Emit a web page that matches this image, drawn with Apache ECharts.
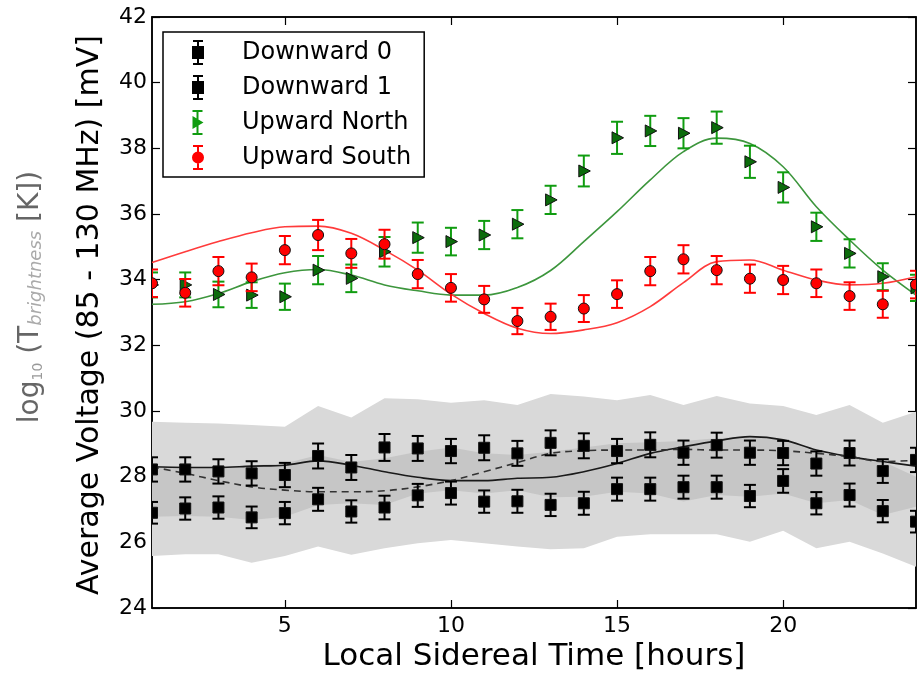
<!DOCTYPE html>
<html>
<head>
    <meta charset="UTF-8">
    <title>Average Voltage vs LST</title>
    <script src="https://cdn.jsdelivr.net/npm/echarts@6/dist/echarts.min.js"></script>
    <style type="text/css">
        html, body { margin:0; padding:0; background:#fff; }
        #main { width:924px; height:679px; }
    </style>
</head>
<body>
<div id="main"></div>
<script type="text/javascript">
    // local sidereal time, hours
    var hours = [1, 2, 3, 4, 5, 6, 7, 8, 9, 10, 11, 12, 13, 14, 15, 16, 17, 18, 19, 20, 21, 22, 23, 24];
    var xTicks = [5, 10, 15, 20];

    // measured points and error half-widths
    var down0 = [28.22, 28.22, 28.16, 28.10, 28.05, 28.63, 28.28, 28.89, 28.86, 28.78, 28.88, 28.71, 29.03, 28.94, 28.78, 28.97, 28.73, 28.96, 28.73, 28.72, 28.40, 28.72, 28.17, 28.51];
    var down0Err = [0.37, 0.37, 0.37, 0.37, 0.37, 0.38, 0.38, 0.41, 0.38, 0.37, 0.38, 0.38, 0.38, 0.38, 0.37, 0.38, 0.37, 0.38, 0.37, 0.37, 0.37, 0.38, 0.36, 0.37];
    var down1 = [26.90, 27.03, 27.06, 26.76, 26.89, 27.31, 26.94, 27.06, 27.43, 27.50, 27.24, 27.25, 27.14, 27.19, 27.62, 27.62, 27.68, 27.68, 27.41, 27.87, 27.19, 27.44, 26.95, 26.63];
    var down1Err = [0.33, 0.34, 0.34, 0.33, 0.34, 0.35, 0.34, 0.36, 0.35, 0.35, 0.34, 0.35, 0.34, 0.35, 0.35, 0.35, 0.35, 0.35, 0.34, 0.36, 0.34, 0.35, 0.34, 0.33];
    var upNorth = [33.84, 33.84, 33.55, 33.53, 33.48, 34.29, 34.04, 34.85, 35.28, 35.16, 35.36, 35.69, 36.43, 37.31, 38.32, 38.53, 38.46, 38.63, 37.59, 36.81, 35.61, 34.80, 34.09, 33.75];
    var upNorthErr = [0.38, 0.38, 0.39, 0.39, 0.40, 0.43, 0.42, 0.45, 0.46, 0.42, 0.43, 0.43, 0.43, 0.47, 0.49, 0.46, 0.46, 0.49, 0.49, 0.46, 0.43, 0.43, 0.41, 0.40];
    var upSouth = [33.89, 33.60, 34.26, 34.07, 34.90, 35.36, 34.80, 35.08, 34.17, 33.75, 33.40, 32.74, 32.87, 33.12, 33.56, 34.26, 34.62, 34.29, 34.03, 33.99, 33.89, 33.50, 33.25, 33.85];
    var upSouthErr = [0.42, 0.42, 0.43, 0.42, 0.43, 0.46, 0.44, 0.44, 0.43, 0.42, 0.41, 0.40, 0.40, 0.41, 0.42, 0.43, 0.43, 0.43, 0.43, 0.43, 0.42, 0.42, 0.41, 0.42];

    // model curves
    var fitNorth = [33.25, 33.33, 33.58, 33.94, 34.21, 34.31, 34.14, 33.84, 33.66, 33.53, 33.53, 33.76, 34.28, 35.16, 36.07, 37.04, 37.90, 38.31, 38.15, 37.44, 36.22, 35.21, 34.29, 33.53];
    var fitSouth = [34.52, 34.85, 35.16, 35.43, 35.61, 35.63, 35.41, 34.90, 34.29, 33.56, 32.97, 32.52, 32.36, 32.47, 32.69, 33.18, 33.91, 34.55, 34.60, 34.29, 33.99, 33.84, 33.89, 34.09];
    var fitDownSolid = [28.30, 28.28, 28.28, 28.32, 28.35, 28.48, 28.35, 28.15, 27.98, 27.88, 27.88, 27.95, 27.98, 28.15, 28.40, 28.71, 28.91, 29.09, 29.22, 29.12, 28.81, 28.61, 28.46, 28.32];
    var fitDownDash = [28.30, 28.10, 27.88, 27.69, 27.59, 27.54, 27.54, 27.57, 27.69, 27.88, 28.15, 28.43, 28.71, 28.79, 28.81, 28.81, 28.83, 28.81, 28.81, 28.79, 28.71, 28.61, 28.46, 28.50];

    // grey bands
    var outerHi = [29.67, 29.64, 29.62, 29.57, 29.52, 30.15, 29.80, 30.39, 30.36, 30.25, 30.33, 30.18, 30.52, 30.44, 30.33, 30.49, 30.18, 30.46, 30.23, 30.15, 29.88, 30.18, 29.64, 29.98];
    var outerLo = [25.58, 25.64, 25.64, 25.38, 25.58, 25.87, 25.62, 25.82, 25.97, 26.07, 25.97, 25.87, 25.79, 25.82, 26.17, 26.25, 26.25, 26.25, 26.02, 26.35, 25.82, 26.02, 25.66, 25.26];
    var innerHi = [28.32, 28.30, 28.30, 28.35, 28.40, 28.66, 28.45, 28.56, 28.76, 28.89, 28.71, 28.66, 28.76, 28.89, 29.02, 29.05, 29.09, 29.17, 29.22, 29.12, 28.76, 28.56, 28.46, 28.00];
    var innerLo = [26.78, 26.80, 26.78, 26.68, 26.78, 27.14, 27.19, 27.14, 27.49, 27.59, 27.49, 27.59, 27.37, 27.39, 27.54, 27.49, 27.24, 27.44, 27.39, 27.49, 27.19, 27.29, 26.83, 27.08];

    var FONT = 'DejaVu Sans';
    var BAR = 'M1,0h10v2h-10z M5,0h2v25h-2z M1,23h10v2h-10z ';
    var ICON_SQ = 'path://' + BAR + 'M0,6h12v13h-12z';
    var ICON_TRI = 'path://' + BAR + 'M1,6L12,12.5L1,19z';
    var ICON_CIR = 'path://' + BAR + 'M0,12.5a6,6 0 1,1 12,0a6,6 0 1,1 -12,0z';

    function pairs(ys) {
        var out = [];
        for (var i = 0; i < hours.length; i++) out.push([hours[i], ys[i]]);
        return out;
    }

    function band(lo, hi, color) {
        return {
            type: 'custom',
            silent: true,
            z: 1,
            clip: true,
            data: [[hours[0], lo[0]]],
            renderItem: function (params, api) {
                var pts = [];
                for (var i = 0; i < hours.length; i++) pts.push(api.coord([hours[i], hi[i]]));
                for (var j = hours.length - 1; j >= 0; j--) pts.push(api.coord([hours[j], lo[j]]));
                return { type: 'polygon', shape: { points: pts }, style: { fill: color } };
            }
        };
    }

    function fitLine(ys, color, type, z) {
        return {
            type: 'line',
            data: pairs(ys),
            showSymbol: false,
            smooth: 0.35,
            silent: true,
            z: z,
            lineStyle: { color: color, width: 1.6, type: type }
        };
    }

    function points(name, ys, errs, barColor, fill, kind, z) {
        var data = [];
        for (var i = 0; i < hours.length; i++) data.push([hours[i], ys[i], ys[i] - errs[i], ys[i] + errs[i]]);
        return {
            type: 'custom',
            name: name,
            z: z,
            clip: true,
            itemStyle: { color: barColor },
            encode: { x: 0, y: [1, 2, 3] },
            data: data,
            renderItem: function (params, api) {
                var x = api.value(0);
                var c = api.coord([x, api.value(1)]);
                var lo = api.coord([x, api.value(2)]);
                var hi = api.coord([x, api.value(3)]);
                var ls = { stroke: barColor, lineWidth: 2 };
                var mk;
                var ms = { fill: fill, stroke: '#111', lineWidth: 1 };
                if (kind === 'square') {
                    mk = { type: 'rect', shape: { x: c[0] - 5.5, y: c[1] - 5.5, width: 11, height: 11 }, style: ms };
                } else if (kind === 'circle') {
                    mk = { type: 'circle', shape: { cx: c[0], cy: c[1], r: 5.5 }, style: ms };
                } else {
                    mk = { type: 'polygon', shape: { points: [[c[0] - 5, c[1] - 6], [c[0] + 6.5, c[1]], [c[0] - 5, c[1] + 6]] }, style: ms };
                }
                return {
                    type: 'group',
                    children: [
                        { type: 'line', shape: { x1: c[0], y1: lo[1], x2: c[0], y2: hi[1] }, style: ls },
                        { type: 'line', shape: { x1: c[0] - 6, y1: lo[1], x2: c[0] + 6, y2: lo[1] }, style: ls },
                        { type: 'line', shape: { x1: c[0] - 6, y1: hi[1], x2: c[0] + 6, y2: hi[1] }, style: ls },
                        mk
                    ]
                };
            }
        };
    }

    var axisLine = { show: true, lineStyle: { color: '#000', width: 1.5 } };
    var tickStyle = { color: '#000', width: 1.2 };

    var myChart = echarts.init(document.getElementById('main'));
    var option = {
        animation: false,
        backgroundColor: '#fff',
        grid: { left: 152, right: 8, top: 17, bottom: 71, show: true, borderColor: '#000', borderWidth: 1.5, backgroundColor: 'transparent' },
        legend: {
            orient: 'vertical',
            left: 163,
            top: 32,
            selectedMode: false,
            backgroundColor: '#fff',
            borderColor: '#000',
            borderWidth: 1.5,
            borderRadius: 0,
            padding: [8, 13, 7, 29],
            itemWidth: 14,
            itemHeight: 25,
            itemGap: 10,
            itemStyle: { borderWidth: 0 },
            formatter: function (name) { return '{g|}' + name; },
            textStyle: {
                fontFamily: FONT, fontSize: 24, color: '#000',
                rich: { g: { width: 32 } }
            },
            data: [
                { name: 'Downward 0', icon: ICON_SQ },
                { name: 'Downward 1', icon: ICON_SQ },
                { name: 'Upward North', icon: ICON_TRI },
                { name: 'Upward South', icon: ICON_CIR }
            ]
        },
        xAxis: [{
            type: 'value', min: 1, max: 24, position: 'bottom',
            axisLine: axisLine,
            axisTick: { inside: true, length: 8, customValues: xTicks, lineStyle: tickStyle },
            axisLabel: { customValues: xTicks, fontFamily: FONT, fontSize: 22, color: '#000', margin: 7 },
            splitLine: { show: false },
            name: 'Local Sidereal Time [hours]',
            nameLocation: 'middle',
            nameGap: 24,
            nameTextStyle: { fontFamily: FONT, fontSize: 31, color: '#000' }
        }, {
            type: 'value', min: 1, max: 24, position: 'top',
            axisLine: axisLine,
            axisTick: { inside: true, length: 8, customValues: xTicks, lineStyle: tickStyle },
            axisLabel: { show: false },
            splitLine: { show: false }
        }],
        yAxis: [{
            type: 'value', min: 24, max: 42, interval: 2, position: 'left',
            axisLine: axisLine,
            axisTick: { inside: true, length: 8, lineStyle: tickStyle },
            axisLabel: { fontFamily: FONT, fontSize: 22, color: '#000', margin: 5 },
            splitLine: { show: false }
        }, {
            type: 'value', min: 24, max: 42, interval: 2, position: 'right',
            axisLine: axisLine,
            axisTick: { inside: true, length: 8, lineStyle: tickStyle },
            axisLabel: { show: false },
            splitLine: { show: false }
        }],
        graphic: [{
            type: 'text',
            x: 90, y: 315,
            rotation: Math.PI / 2,
            style: { text: 'Average Voltage (85 - 130 MHz) [mV]', fontFamily: FONT, fontSize: 30, fill: '#000', align: 'center', verticalAlign: 'middle' }
        }, {
            type: 'text',
            x: 31, y: 297,
            rotation: Math.PI / 2,
            style: {
                text: 'log{s|10} (T{b|brightness} [K])',
                fontFamily: FONT, fontSize: 28, fill: '#666', align: 'center', verticalAlign: 'middle',
                rich: {
                    s: { fontFamily: FONT, fontSize: 14, fill: '#999', verticalAlign: 'bottom' },
                    b: { fontFamily: FONT, fontSize: 18, fontStyle: 'italic', fill: '#aaa', verticalAlign: 'bottom' }
                }
            }
        }],
        series: [
            band(outerLo, outerHi, '#d9d9d9'),
            band(innerLo, innerHi, '#c6c6c6'),
            fitLine(fitDownSolid, '#1a1a1a', 'solid', 2),
            fitLine(fitDownDash, '#333', [7, 5], 2),
            fitLine(fitNorth, '#3d963d', 'solid', 2),
            fitLine(fitSouth, '#ff3b3b', 'solid', 2),
            points('Downward 0', down0, down0Err, '#000', '#000', 'square', 5),
            points('Downward 1', down1, down1Err, '#000', '#000', 'square', 5),
            points('Upward North', upNorth, upNorthErr, '#109c10', '#0b6b0b', 'triangle', 5),
            points('Upward South', upSouth, upSouthErr, '#ff0000', '#ff0000', 'circle', 6)
        ]
    };
    myChart.setOption(option);
</script>
</body>
</html>
